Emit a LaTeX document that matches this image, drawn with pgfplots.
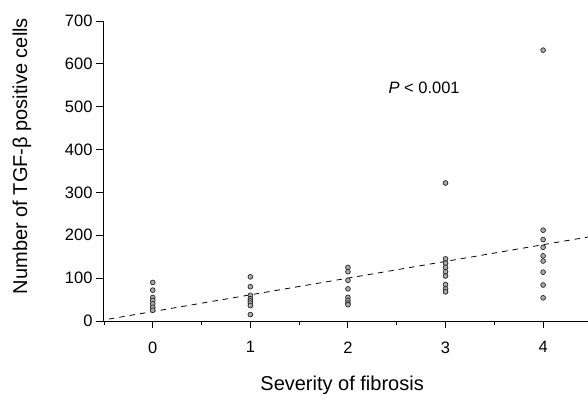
\documentclass[border=0pt]{standalone}
\usepackage{fontspec}
\setmainfont{Liberation Sans}
\usepackage{pgfplots}
\pgfplotsset{compat=1.18}
\begin{document}
\begin{tikzpicture}
\useasboundingbox (-103pt,-73pt) rectangle (485pt,321pt);
\begin{axis}[
  scale only axis,
  width=485pt, height=300pt,
  xmin=-0.51, xmax=4.46,
  ymin=0, ymax=700,
  axis x line*=bottom, axis y line*=left,
  axis line style={-, line width=0.9pt},
  tick align=outside,
  tick style={black, line width=0.9pt},
  major tick length=7pt,
  minor tick length=4pt,
  xtick={0,1,2,3,4},
  minor xtick={-0.5,0.5,1.5,2.5,3.5},
  ytick={0,100,...,700},
  /pgf/number format/assume math mode=true,
  ticklabel style={font=\fontsize{16.5}{18}\selectfont},
  xticklabel style={yshift=-10pt},
  xlabel={Severity of fibrosis},
  ylabel={Number of TGF-β positive cells},
  label style={font=\fontsize{20}{22}\selectfont},
  xlabel style={at={(axis description cs:0.493,-0.23)}, anchor=base},
  ylabel style={at={(axis description cs:-0.167,0.55)}, anchor=center},
  clip=false,
]
\addplot[black, line width=0.8pt, dash pattern=on 5.5pt off 5pt] coordinates {(-0.45,4.5) (4.46,196)};
\addplot[only marks, mark=*, mark size=2.4pt, mark options={fill=gray!65, draw=black!85, line width=0.7pt}] coordinates {
(0,90) (0,72) (0,55) (0,48) (0,40) (0,32) (0,25)
(1,103) (1,80) (1,60) (1,52) (1,47) (1,42) (1,36) (1,15)
(2,125) (2,115) (2,95) (2,75) (2,55) (2,48) (2,42) (2,38)
(3,322) (3,145) (3,135) (3,125) (3,115) (3,105) (3,85) (3,75) (3,68)
(4,632) (4,212) (4,190) (4,172) (4,152) (4,140) (4,114) (4,84) (4,54)
};
\node[anchor=west, font=\fontsize{16.5}{18}\selectfont] at (axis cs:2.38,544) {\textit{P} < 0.001};
\end{axis}
\end{tikzpicture}
\end{document}
